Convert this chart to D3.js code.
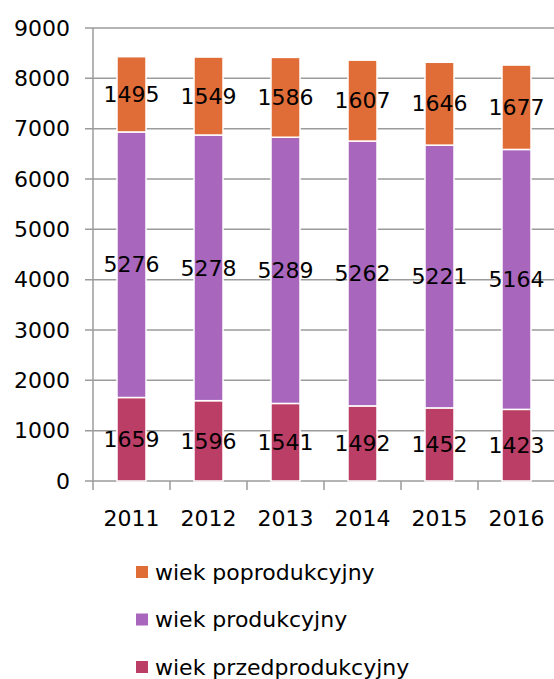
<!DOCTYPE html>
<html>
<head>
<meta charset="utf-8">
<script src="https://cdn.jsdelivr.net/npm/d3@7"></script>
<style>
body { margin: 0; background: #fff; }
text { font-family: "DejaVu Sans", sans-serif; fill: #000; }
</style>
</head>
<body>
<div id="chart"></div>
<script>
var years = ["2011", "2012", "2013", "2014", "2015", "2016"];
var przed = [1659, 1596, 1541, 1492, 1452, 1423];
var prod = [5276, 5278, 5289, 5262, 5221, 5164];
var popr = [1495, 1549, 1586, 1607, 1646, 1677];
var yTicks = [0, 1000, 2000, 3000, 4000, 5000, 6000, 7000, 8000, 9000];

var series = [
  {name: "wiek przedprodukcyjny", values: przed, color: "#BA3E66"},
  {name: "wiek produkcyjny", values: prod, color: "#A866BD"},
  {name: "wiek poprodukcyjny", values: popr, color: "#E06D37"}
];

var w = 554, h = 679;
var mLeft = 93, mRight = 555, mTop = 28, mBottom = 481;

var svg = d3.select("#chart").append("svg")
  .attr("width", w)
  .attr("height", h);

var x = d3.scaleBand()
  .domain(years)
  .range([mLeft, mRight])
  .padding(0);

var y = d3.scaleLinear()
  .domain([0, 9000])
  .range([mBottom, mTop]);

// gridlines
svg.append("g")
  .selectAll("line")
  .data(yTicks)
  .enter()
  .append("line")
  .attr("x1", mLeft - 8)
  .attr("x2", mRight)
  .attr("y1", function(d) { return y(d); })
  .attr("y2", function(d) { return y(d); })
  .attr("stroke", "#9b9b9b")
  .attr("stroke-width", 1.5);

// y labels
svg.append("g")
  .selectAll("text")
  .data(yTicks)
  .enter()
  .append("text")
  .attr("x", 70)
  .attr("y", function(d) { return y(d); })
  .attr("dy", "0.35em")
  .attr("text-anchor", "end")
  .style("font-size", "22px")
  .text(function(d) { return d; });

// axis line + x ticks
svg.append("line")
  .attr("x1", mLeft).attr("x2", mLeft)
  .attr("y1", mTop).attr("y2", mBottom + 9)
  .attr("stroke", "#9b9b9b").attr("stroke-width", 1.5);

svg.append("g")
  .selectAll("line")
  .data(years)
  .enter()
  .append("line")
  .attr("x1", function(d) { return x(d) + x.bandwidth(); })
  .attr("x2", function(d) { return x(d) + x.bandwidth(); })
  .attr("y1", mBottom)
  .attr("y2", mBottom + 9)
  .attr("stroke", "#9b9b9b").attr("stroke-width", 1.5);

// stacked bars
var table = years.map(function(yr, i) {
  return {year: yr, przed: przed[i], prod: prod[i], popr: popr[i]};
});
var stack = d3.stack().keys(["przed", "prod", "popr"])(table);

var barW = 29;
stack.forEach(function(layer, li) {
  svg.append("g").selectAll("rect")
    .data(layer)
    .enter()
    .append("rect")
    .attr("x", function(d) { return x(d.data.year) + x.bandwidth() / 2 - barW / 2; })
    .attr("y", function(d) { return y(d[1]); })
    .attr("width", barW)
    .attr("height", function(d) { return y(d[0]) - y(d[1]); })
    .attr("fill", series[li].color)
    .attr("stroke", "#fff")
    .attr("stroke-width", 1.5);
});
stack.forEach(function(layer) {
  svg.append("g").selectAll("text")
    .data(layer)
    .enter()
    .append("text")
    .attr("x", function(d) { return x(d.data.year) + x.bandwidth() / 2; })
    .attr("y", function(d) { return y((d[0] + d[1]) / 2); })
    .attr("dy", "0.35em")
    .attr("text-anchor", "middle")
    .style("font-size", "22px")
    .text(function(d) { return d[1] - d[0]; });
});

// x labels
svg.append("g")
  .selectAll("text")
  .data(years)
  .enter()
  .append("text")
  .attr("x", function(d) { return x(d) + x.bandwidth() / 2; })
  .attr("y", 518)
  .attr("dy", "0.35em")
  .attr("text-anchor", "middle")
  .style("font-size", "22px")
  .text(function(d) { return d; });

// legend
var legendOrder = [series[2], series[1], series[0]];
var lg = svg.append("g")
  .selectAll("g")
  .data(legendOrder)
  .enter()
  .append("g")
  .attr("transform", function(d, i) { return "translate(136," + (572 + i * 47.5) + ")"; });
lg.append("rect")
  .attr("x", 0).attr("y", -6)
  .attr("width", 12).attr("height", 12)
  .attr("fill", function(d) { return d.color; });
lg.append("text")
  .attr("x", 19)
  .attr("y", 0)
  .attr("dy", "0.35em")
  .style("font-size", "22px")
  .text(function(d) { return d.name; });
</script>
</body>
</html>
